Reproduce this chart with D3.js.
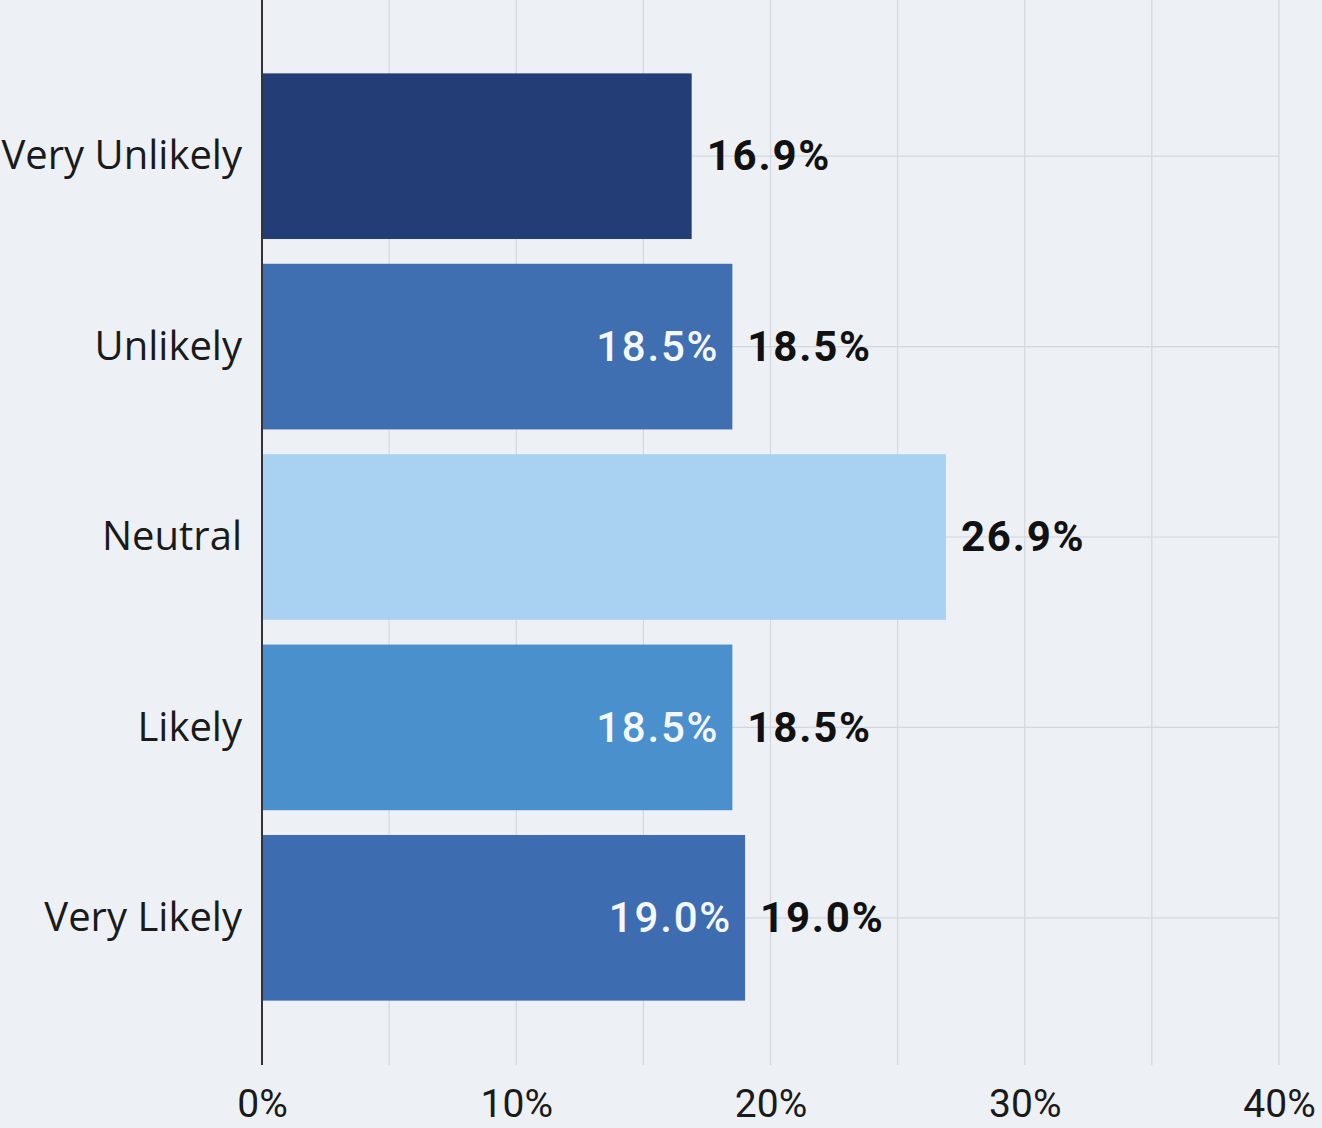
<!DOCTYPE html>
<html>
<head>
<meta charset="utf-8">
<script src="https://cdn.jsdelivr.net/npm/d3@7"></script>
<style>
body { margin: 0; background: #edf1f5; }
svg { display: block; }
.cat { font-family: "Open Sans", "Noto Sans", sans-serif; font-size: 40px; font-weight: 400; fill: #1a1a1a; }
.val { font-family: "Roboto", sans-serif; font-size: 42px; font-weight: 700; letter-spacing: 1.8px; }
.val.inner { font-weight: 500; }
.tick text { font-family: "Roboto", sans-serif; font-size: 39px; font-weight: 400; fill: #1a1a1a; }
</style>
</head>
<body>
<svg width="1322" height="1128"></svg>
<script>
var categories = ["Very Unlikely", "Unlikely", "Neutral", "Likely", "Very Likely"];
var values = [16.9, 18.5, 26.9, 18.5, 19.0];
var colors = ["#233e77", "#3f6fb1", "#a9d1f1", "#4990cd", "#3d6db0"];
var insideLabel = [false, true, false, true, true];
var xTicks = [0, 10, 20, 30, 40];
var gridTicks = [5, 10, 15, 20, 25, 30, 35, 40];

var svg = d3.select("svg");

var x = d3.scaleLinear().domain([0, 40]).range([262, 1279]);
var y = d3.scaleBand().domain(categories).range([61, 1013])
    .paddingInner(0.13).paddingOuter(0.065);

// grid
svg.append("g").selectAll("line").data(gridTicks).enter().append("line")
    .attr("x1", d => x(d)).attr("x2", d => x(d))
    .attr("y1", 0).attr("y2", 1065)
    .attr("stroke", "#d3d8de").attr("stroke-width", 1.2);

svg.append("g").selectAll("line").data(categories).enter().append("line")
    .attr("x1", x(0)).attr("x2", x(40))
    .attr("y1", d => y(d) + y.bandwidth() / 2).attr("y2", d => y(d) + y.bandwidth() / 2)
    .attr("stroke", "#d3d8de").attr("stroke-width", 1.2);

// bars
svg.append("g").selectAll("rect").data(values).enter().append("rect")
    .attr("x", x(0))
    .attr("y", (d, i) => y(categories[i]))
    .attr("width", d => x(d) - x(0))
    .attr("height", y.bandwidth())
    .attr("fill", (d, i) => colors[i]);

// axis line
svg.append("line")
    .attr("x1", x(0)).attr("x2", x(0)).attr("y1", 0).attr("y2", 1065)
    .attr("stroke", "#333").attr("stroke-width", 2);

// category labels
svg.append("g").selectAll("text").data(categories).enter().append("text")
    .attr("class", "cat")
    .attr("x", 242)
    .attr("y", d => y(d) + y.bandwidth() / 2)
    .attr("dy", "0.33em")
    .attr("text-anchor", "end")
    .text(d => d);

// value labels outside
svg.append("g").selectAll("text").data(values).enter().append("text")
    .attr("class", "val")
    .attr("x", d => x(d) + 15)
    .attr("y", (d, i) => y(categories[i]) + y.bandwidth() / 2)
    .attr("dy", "0.34em")
    .attr("fill", "#111")
    .text(d => d.toFixed(1) + "%");

// value labels inside
svg.append("g").selectAll("text").data(values.map((v, i) => [v, i]).filter(p => insideLabel[p[1]]))
  .enter().append("text")
    .attr("class", "val inner")
    .attr("x", p => x(p[0]) - 13)
    .attr("y", p => y(categories[p[1]]) + y.bandwidth() / 2)
    .attr("dy", "0.34em")
    .attr("text-anchor", "end")
    .attr("fill", "#f4f7fb")
    .text(p => p[0].toFixed(1) + "%");

// x axis
var xAxis = d3.axisBottom(x).tickValues(xTicks).tickFormat(d => d + "%").tickSize(0).tickPadding(0);
var ax = svg.append("g").attr("transform", "translate(0,1089)").call(xAxis);
ax.select(".domain").remove();
ax.selectAll(".tick text").attr("dy", "0.71em");
</script>
</body>
</html>
